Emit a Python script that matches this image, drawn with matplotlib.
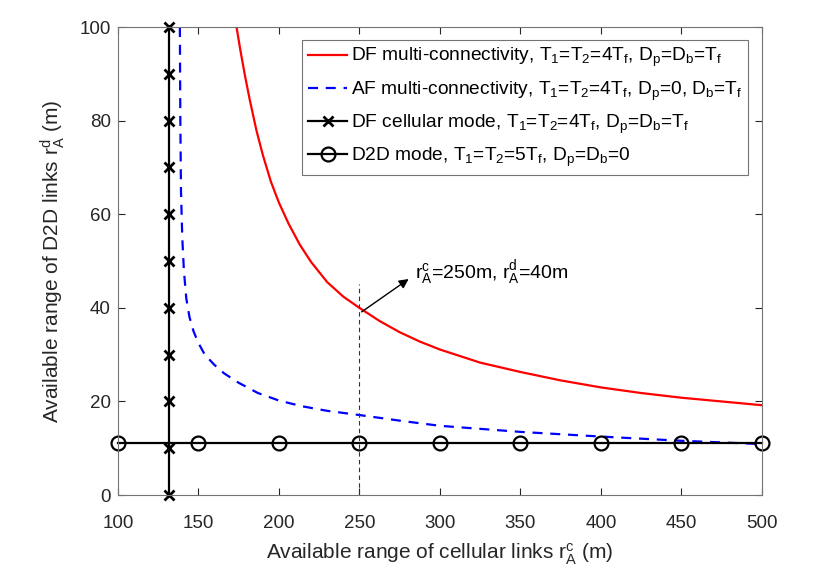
import numpy as np
import matplotlib
matplotlib.use('Agg')
import matplotlib.pyplot as plt

plt.rcParams['font.family'] = ['Liberation Sans', 'DejaVu Sans']
plt.rcParams['mathtext.default'] = 'regular'

# DF multi-connectivity
df_x = [173.7, 176, 179, 182, 186, 190, 195, 200, 206, 213, 220, 230, 240,
        250, 262.5, 275, 287.5, 300, 325, 350, 375, 400, 425, 450, 475, 500]
df_y = [100, 95.2, 89.5, 84.3, 78, 72.7, 67, 62.5, 58, 53.5, 49.8, 45.5, 42.4,
        40, 37.2, 34.8, 32.8, 31.1, 28.3, 26.3, 24.5, 23.0, 21.8, 20.8, 20.0, 19.2]

# AF multi-connectivity
af_x = [138.5, 138.8, 139.2, 140, 141, 142.5, 144.5, 147, 150, 154, 160, 166,
        175, 187, 200, 214, 230, 250, 275, 300, 350, 400, 450, 500]
af_y = [100, 80, 65, 55, 48, 42, 38, 35, 32.5, 30, 27.8, 26,
        24, 21.8, 20.2, 19, 18, 17.1, 15.9, 14.8, 13.5, 12.5, 11.6, 10.9]

# DF cellular mode: vertical line
cell_x = 132
cell_y = [0, 10, 20, 30, 40, 50, 60, 70, 80, 90, 100]

# D2D mode: horizontal line
d2d_x = [100, 150, 200, 250, 300, 350, 400, 450, 500]
d2d_y = 11.2

# operating point annotation
point_x = 250
point_y = 40
guide_top = 45

labels = [
    'DF multi-connectivity, T$_1$=T$_2$=4T$_f$, D$_p$=D$_b$=T$_f$',
    'AF multi-connectivity, T$_1$=T$_2$=4T$_f$, D$_p$=0, D$_b$=T$_f$',
    'DF cellular mode, T$_1$=T$_2$=4T$_f$, D$_p$=D$_b$=T$_f$',
    'D2D mode, T$_1$=T$_2$=5T$_f$, D$_p$=D$_b$=0',
]

fig = plt.figure(figsize=(8.3, 5.75), dpi=100)
ax = fig.add_axes([0.142, 0.139, 0.776, 0.814])

ax.plot(df_x, df_y, color='red', lw=1.6, label=labels[0])
ax.plot(af_x, af_y, color='blue', lw=1.6, ls=(0, (4.5, 3.5)), label=labels[1])
ax.plot([cell_x] * len(cell_y), cell_y, color='black', lw=1.6, marker='x',
        ms=7, mew=2, label=labels[2], clip_on=False)
ax.plot(d2d_x, [d2d_y] * len(d2d_x), color='black', lw=1.6, marker='o',
        ms=10, mew=1.6, mfc='none', label=labels[3], clip_on=False)

# dashed guide and arrow
ax.plot([point_x, point_x], [0, guide_top], color='0.2', lw=0.8, ls=(0, (4, 3)))
ax.annotate('', xy=(282, 46.5), xytext=(point_x, point_y - 1.2),
            arrowprops=dict(arrowstyle='-|>', color='black', lw=1.0,
                            mutation_scale=14))
ax.text(284.5, 47.5, 'r$_A^c$=250m, r$_A^d$=40m', fontsize=14,
        va='center', ha='left')

ax.set_xlim(100, 500)
ax.set_ylim(0, 100)
ax.set_xticks(np.arange(100, 501, 50))
ax.set_yticks(np.arange(0, 101, 20))
ax.tick_params(direction='in', length=5, top=True, right=True,
               labelsize=13.5, colors='0.15')
ax.tick_params(axis='x', pad=14)
ax.tick_params(axis='y', pad=5)
for sp in ax.spines.values():
    sp.set_color('0.45')
    sp.set_linewidth(0.8)

ax.set_xlabel('Available range of cellular links r$_A^c$ (m)', fontsize=15,
              color='0.15', labelpad=7)
ax.set_ylabel('Available range of D2D links r$_A^d$ (m)', fontsize=15,
              color='0.15', labelpad=9)

leg = ax.legend(loc='upper right', bbox_to_anchor=(0.9785, 0.972), fontsize=13.8,
                numpoints=1, handlelength=2.0, handletextpad=0.2,
                borderaxespad=0.0, fancybox=False, framealpha=1,
                labelspacing=0.52, borderpad=0.32)
leg.get_frame().set_edgecolor('0.45')
leg.get_frame().set_linewidth(0.8)

fig.savefig('out.png', dpi=100)
